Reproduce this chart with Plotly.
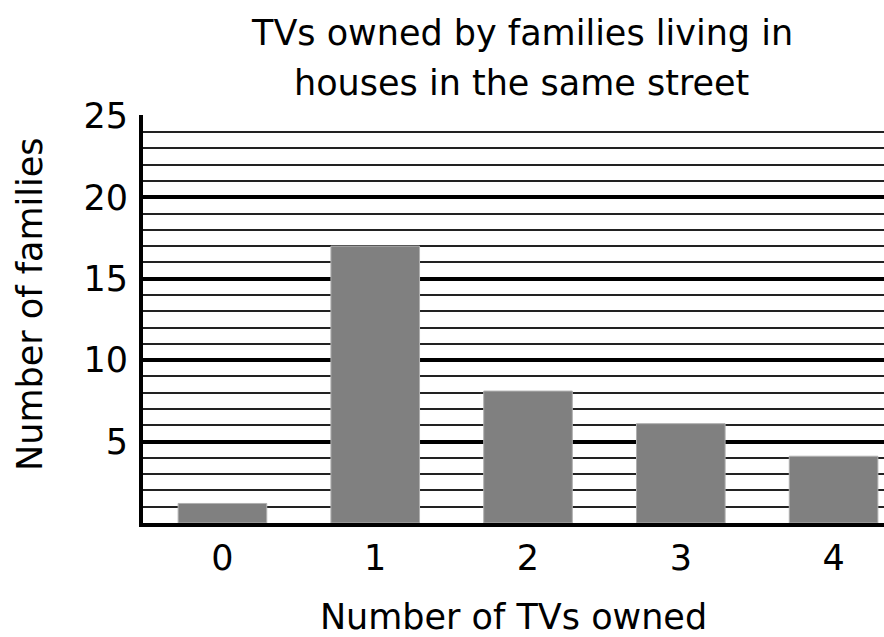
import plotly.graph_objects as go

tv_counts = [0, 1, 2, 3, 4]
families = [1.2, 17, 8.1, 6.1, 4.1]
y_tick_vals = [0, 5, 10, 15, 20, 25]
y_tick_text = ["", "5", "10", "15", "20", "25"]
x_tick_text = ["0", "1", "2", "3", "4"]
title_lines = ["TVs owned by families living in", "houses in the same street"]
y_title = "Number of families"
x_title = "Number of TVs owned"

FONT = "DejaVu Sans"
SIZE = 35

fig = go.Figure(
    go.Bar(
        x=tv_counts,
        y=families,
        width=0.58,
        marker=dict(color="#808080", line=dict(color="#b0b0b0", width=1)),
    )
)

fig.update_layout(
    width=884,
    height=637,
    paper_bgcolor="white",
    plot_bgcolor="white",
    margin=dict(l=143, r=0, t=115, b=114),
    showlegend=False,
    font=dict(family=FONT, color="black"),
    annotations=[
        dict(text=title_lines[0], xref="paper", yref="paper", x=0.511, y=1.201,
             xanchor="center", yanchor="middle", showarrow=False,
             font=dict(family=FONT, size=SIZE, color="black")),
        dict(text=title_lines[1], xref="paper", yref="paper", x=0.511, y=1.078,
             xanchor="center", yanchor="middle", showarrow=False,
             font=dict(family=FONT, size=SIZE, color="black")),
        dict(text=y_title, xref="paper", yref="paper", x=-0.1525, y=0.537,
             xanchor="center", yanchor="middle", showarrow=False, textangle=-90,
             font=dict(family=FONT, size=SIZE, color="black")),
    ],
)

fig.update_xaxes(
    range=[-0.52, 4.33],
    tickmode="array",
    tickvals=tv_counts,
    ticktext=x_tick_text,
    tickfont=dict(size=SIZE, family=FONT, color="black"),
    showgrid=False,
    zeroline=False,
    showline=True,
    linecolor="black",
    linewidth=4,
    ticks="",
    ticklabelstandoff=1,
    title=dict(text=x_title, font=dict(size=SIZE, family=FONT, color="black"), standoff=28),
)

fig.update_yaxes(
    range=[0, 25.05],
    tickmode="array",
    tickvals=y_tick_vals,
    ticktext=y_tick_text,
    tickfont=dict(size=SIZE, family=FONT, color="black"),
    showgrid=True,
    gridcolor="black",
    gridwidth=4,
    minor=dict(tickmode="linear", tick0=0, dtick=1, showgrid=True, gridcolor="#222222", gridwidth=1.5),
    zeroline=False,
    showline=True,
    linecolor="black",
    linewidth=4,
    ticks="",
    ticklabelstandoff=4,
)

fig.write_html(
    "out.html",
    config={"displayModeBar": False},
    post_script="document.body.style.margin='0';document.body.style.overflow='hidden';",
)
